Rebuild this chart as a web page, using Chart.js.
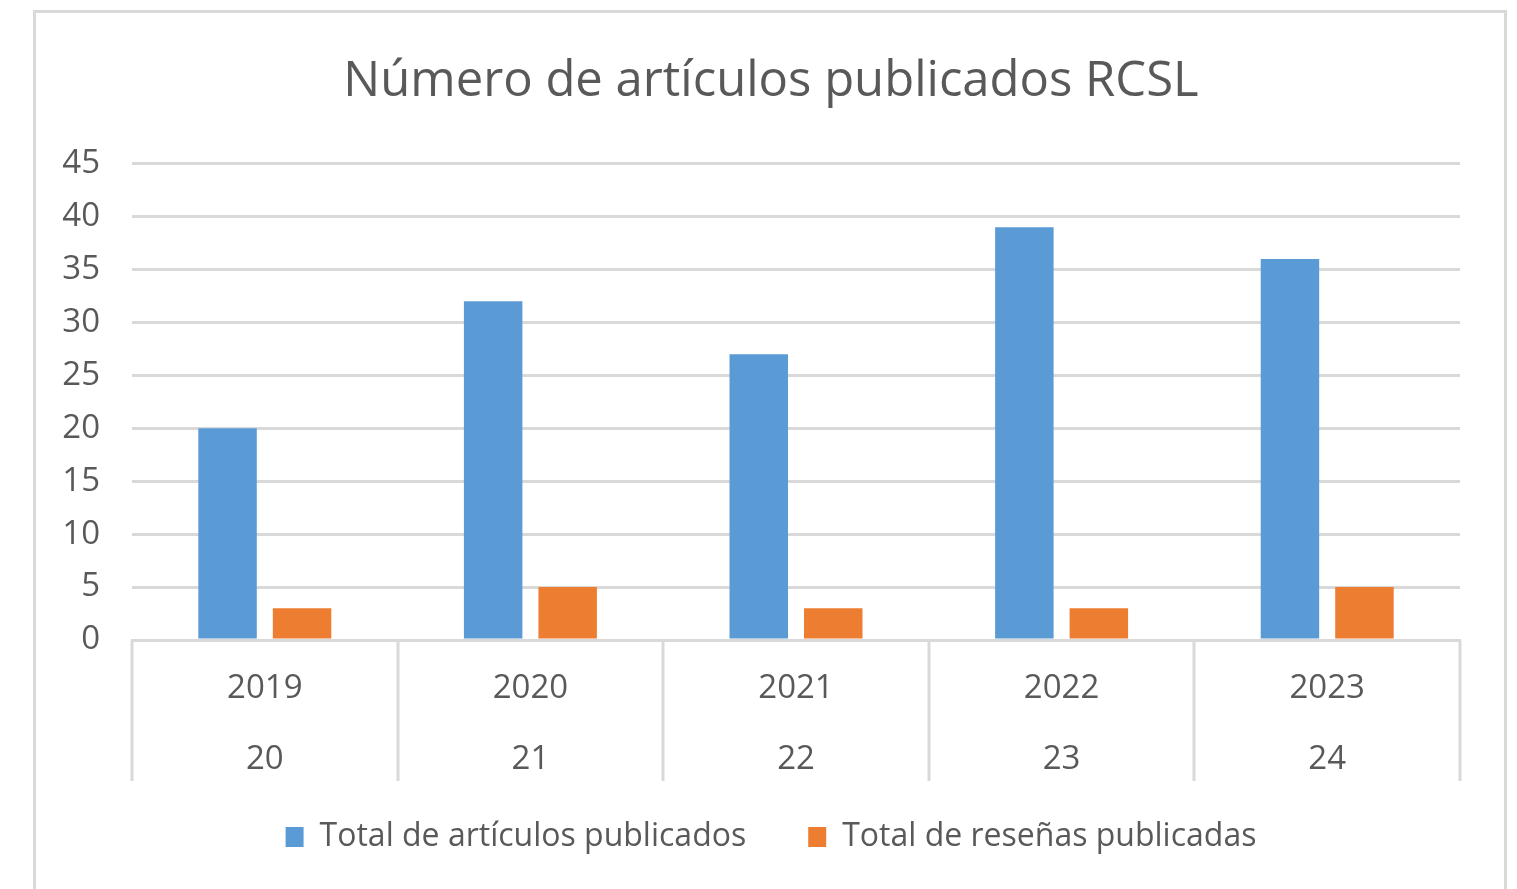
<!DOCTYPE html>
<html>
<head>
<meta charset="utf-8">
<script src="https://cdn.jsdelivr.net/npm/chart.js@4"></script>
<style>
  html, body { margin: 0; padding: 0; background: #fff; width: 1517px; height: 889px; overflow: hidden; }
  #frame { position: absolute; left: 33px; top: 10px; width: 1474px; height: 900px; border: 3px solid #D9D9D9; box-sizing: border-box; }
  #wrap { position: absolute; left: 0; top: 0; width: 1517px; height: 889px; }
</style>
</head>
<body>
<div id="frame"></div>
<div id="wrap"><canvas id="c" width="1517" height="889"></canvas></div>
<script>
const categories = [["2019", "20"], ["2020", "21"], ["2021", "22"], ["2022", "23"], ["2023", "24"]];
const articulos = [20, 32, 27, 39, 36];
const resenas = [3, 5, 3, 3, 5];
const seriesNames = ["Total de artículos publicados", "Total de reseñas publicadas"];
const titleText = "Número de artículos publicados RCSL";

const GRID = "#D9D9D9";
const TEXT = "#595959";
const FONT = "'Open Sans', 'Liberation Sans', sans-serif";

const dividers = {
  id: "dividers",
  afterDraw(chart) {
    const x = chart.scales.x;
    const ctx = chart.ctx;
    ctx.save();
    ctx.strokeStyle = GRID;
    ctx.lineWidth = 3;
    for (let i = 0; i <= categories.length; i++) {
      const px = Math.round(x.getPixelForValue(i - 0.5));
      ctx.beginPath();
      ctx.moveTo(px, x.top);
      ctx.lineTo(px, x.top + 141);
      ctx.stroke();
    }
    ctx.restore();
  }
};

new Chart(document.getElementById("c"), {
  type: "bar",
  data: {
    labels: categories,
    datasets: [
      { label: seriesNames[0], data: articulos, backgroundColor: "#5B9BD5", borderWidth: 0,
        categoryPercentage: 0.561, barPercentage: 0.785 },
      { label: seriesNames[1], data: resenas, backgroundColor: "#ED7D31", borderWidth: 0,
        categoryPercentage: 0.561, barPercentage: 0.785 }
    ]
  },
  options: {
    responsive: false,
    animation: false,
    layout: { padding: { left: 56, right: 31, top: 0, bottom: 26 } },
    plugins: {
      title: {
        display: true, text: titleText, color: TEXT,
        font: { family: FONT, size: 49, weight: "normal", lineHeight: 1.2 },
        padding: { top: 53, bottom: 52 }
      },
      legend: {
        position: "bottom",
        labels: {
          color: TEXT, boxWidth: 18, boxHeight: 20, padding: 62,
          font: { family: FONT, size: 32 }
        }
      },
      tooltip: { enabled: false }
    },
    scales: {
      x: {
        offset: true,
        grid: { display: false, drawTicks: false },
        border: { display: true, color: GRID, width: 3 },
        ticks: { color: TEXT, padding: -84, mirror: true, maxRotation: 0, autoSkip: false,
          font: { family: FONT, size: 33, lineHeight: 2.15 } },
        afterFit(s) { s.height = 119; }
      },
      y: {
        min: 0, max: 45,
        ticks: { stepSize: 5, color: TEXT, padding: 32,
          font: { family: FONT, size: 33 } },
        grid: { color: GRID, lineWidth: 3, drawTicks: false },
        border: { display: false },
        afterFit(s) { s.width = 76; }
      },
      yRight: {
        position: "right", display: true,
        grid: { display: false, drawTicks: false },
        border: { display: false },
        ticks: { display: false },
        afterFit(s) { s.width = 26; }
      }
    }
  },
  plugins: [dividers]
});
</script>
</body>
</html>
